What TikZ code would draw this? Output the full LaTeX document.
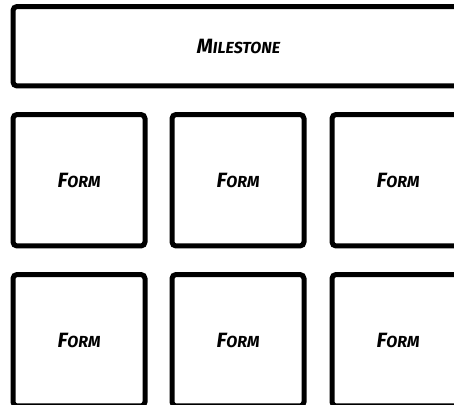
\documentclass[tikz,border=0pt]{standalone}
\usepackage{fontspec}
\usepackage{tikz}
\newfontfamily\markfont{Fira Sans}
\newcommand{\fakesc}[2]{{\fontsize{15.5}{15.5}\selectfont #1}{\fontsize{12}{12}\selectfont #2}}

\tikzset{
  wirebox/.style={draw, line width=3.75pt, rounded corners=3pt, fill=white,
    minimum width=99pt, minimum height=98.6pt, inner sep=0pt,
    font=\markfont\bfseries\itshape},
}

\begin{document}
\begin{tikzpicture}[x=0.75pt,y=0.75pt,yscale=-1,xscale=1]
%set diagram size to the visible window
\useasboundingbox (0,0) rectangle (454,404);
\clip (0,0) rectangle (454,404);

%Shape: Rectangle [id:milestone]
\draw (238.5,46.25) node [wirebox, minimum width=338.25pt, minimum height=59.6pt] (milestone) {\fakesc{M}{ILESTONE}};

%Shape: Rectangle [id:formA]
\draw (79,180.25) node [wirebox] (formA) {\fakesc{F}{ORM}};
%Shape: Rectangle [id:formB]
\draw (238,180.25) node [wirebox] (formB) {\fakesc{F}{ORM}};
%Shape: Rectangle [id:formC]
\draw (398,180.25) node [wirebox] (formC) {\fakesc{F}{ORM}};

%Shape: Rectangle [id:formD]
\draw (79,340.25) node [wirebox] (formD) {\fakesc{F}{ORM}};
%Shape: Rectangle [id:formE]
\draw (238,340.25) node [wirebox] (formE) {\fakesc{F}{ORM}};
%Shape: Rectangle [id:formF]
\draw (398,340.25) node [wirebox] (formF) {\fakesc{F}{ORM}};
\end{tikzpicture}
\end{document}
